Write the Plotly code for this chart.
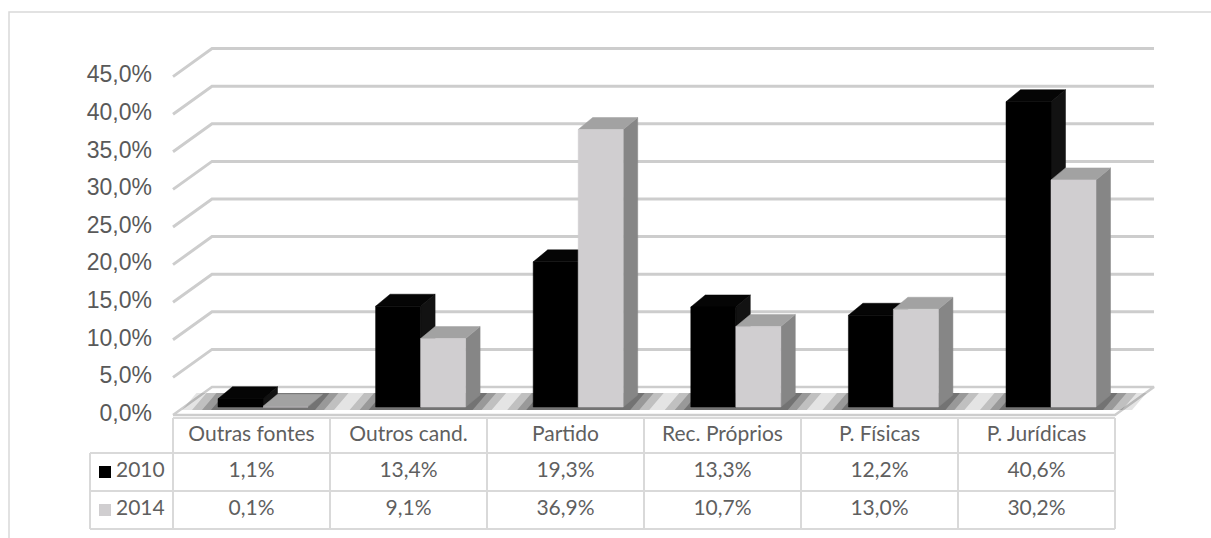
import plotly.graph_objects as go

# ---------------- data ----------------
categories = ["Outras fontes", "Outros cand.", "Partido", "Rec. Próprios", "P. Físicas", "P. Jurídicas"]
series_names = ["2010", "2014"]
values_2010 = [1.1, 13.4, 19.3, 13.3, 12.2, 40.6]
values_2014 = [0.1, 9.1, 36.9, 10.7, 13.0, 30.2]
tick_values = [0, 5, 10, 15, 20, 25, 30, 35, 40, 45]
tick_labels = ["0,0%", "5,0%", "10,0%", "15,0%", "20,0%", "25,0%", "30,0%", "35,0%", "40,0%", "45,0%"]

# ---------------- geometry / style ----------------
W, H = 1211, 538
PX_X = 157.0          # pixels per category
X0 = 251.5            # pixel of category 0 center
PX_Y = 7.52           # pixels per percent point
Y0 = 415.0            # pixel of 0% on the front plane

def ux(px):  # pixel length -> x units
    return px / PX_X

def uy(px):  # pixel length -> y units
    return px / PX_Y

BAR_W = ux(45)
BAR_BASE = uy(8)
DEPTH_DX = ux(14.5)
DEPTH_DY = uy(12)
WALL_DX = ux(39)
WALL_DY = uy(28)
X_LEFT, X_RIGHT = -0.5, len(categories) - 0.5

COL = {
    "2010": dict(front="#000000", top="#050505", side="#121212"),
    "2014": dict(front="#d0ced0", top="#a2a2a2", side="#868686"),
}
GRID = "#cdcdcd"
TXT = "#595959"
TABLE_LINE = "#d9d9d9"

fig = go.Figure()

# ---- back wall grid lines (with left diagonal) ----
gx, gy = [], []
for t in tick_values[1:]:
    gx += [X_LEFT, X_LEFT + WALL_DX, X_RIGHT + WALL_DX, None]
    gy += [t, t + WALL_DY, t + WALL_DY, None]
fig.add_trace(go.Scatter(x=gx, y=gy, mode="lines", line=dict(color=GRID, width=3),
                         hoverinfo="skip", showlegend=False))

# ---- floor ----
fig.add_trace(go.Scatter(
    x=[X_LEFT, X_LEFT + WALL_DX, X_RIGHT + WALL_DX, X_RIGHT, X_LEFT],
    y=[0, WALL_DY, WALL_DY, 0, 0],
    mode="lines", fill="toself", fillcolor="#ffffff",
    line=dict(color=GRID, width=2.5), hoverinfo="skip", showlegend=False))

# ---- soft shadows on floor around bar pairs ----
for spread, op in [(ux(36), 0.12), (ux(26), 0.18), (ux(16), 0.24), (ux(7), 0.30)]:
    sx, sy = [], []
    for i in range(len(categories)):
        shift = ux(11.5 + 0.6 * i)
        xl = i + shift - BAR_W
        xr = i + shift + BAR_W
        yb = BAR_BASE - uy(3)
        yt = BAR_BASE + DEPTH_DY + uy(2)
        sx += [xl - spread, xl - spread + DEPTH_DX, xr + spread + DEPTH_DX, xr + spread, xl - spread, None]
        sy += [yb, yt, yt, yb, yb, None]
    fig.add_trace(go.Scatter(x=sx, y=sy, mode="none", fill="toself",
                             fillcolor=f"rgba(30,30,30,{op})",
                             hoverinfo="skip", showlegend=False))

# ---- 3D bars ----
for s_idx, (name, vals) in enumerate(zip(series_names, [values_2010, values_2014])):
    fx, fy, tx, ty, sx, sy = [], [], [], [], [], []
    for i, v in enumerate(vals):
        shift = ux(11.5 + 0.6 * i)
        xl = i + shift - BAR_W + s_idx * BAR_W
        xr = xl + BAR_W
        b = BAR_BASE
        top = BAR_BASE + v
        fx += [xl, xr, xr, xl, xl, None]
        fy += [b, b, top, top, b, None]
        tx += [xl, xl + DEPTH_DX, xr + DEPTH_DX, xr, xl, None]
        ty += [top, top + DEPTH_DY, top + DEPTH_DY, top, top, None]
        sx += [xr, xr + DEPTH_DX, xr + DEPTH_DX, xr, xr, None]
        sy += [b, b + DEPTH_DY, top + DEPTH_DY, top, b, None]
    c = COL[name]
    for xs, ys, col in [(sx, sy, c["side"]), (tx, ty, c["top"]), (fx, fy, c["front"])]:
        fig.add_trace(go.Scatter(x=xs, y=ys, mode="lines", fill="toself", fillcolor=col,
                                 line=dict(color=col, width=0.5), hoverinfo="skip",
                                 showlegend=False))

# ---- y tick labels ----
fig.add_trace(go.Scatter(
    x=[X_LEFT - ux(21)] * len(tick_values), y=tick_values, mode="text",
    text=tick_labels, textposition="middle left",
    textfont=dict(family="Liberation Sans, Arial, sans-serif", size=23, color=TXT),
    hoverinfo="skip", showlegend=False))

# ---- data table ----
T_TOP = -uy(3)
R1 = -uy(38)
R2 = -uy(76)
R3 = -uy(114)
LEG_L = X_LEFT - ux(83)

lx, ly = [], []
lx += [X_LEFT, X_RIGHT, None]; ly += [T_TOP, T_TOP, None]
for r in [R1, R2, R3]:
    lx += [LEG_L, X_RIGHT, None]; ly += [r, r, None]
for k in range(len(categories) + 1):
    xv = X_LEFT + k
    lx += [xv, xv, None]; ly += [T_TOP, R3, None]
lx += [LEG_L, LEG_L, None]; ly += [R1, R3, None]
fig.add_trace(go.Scatter(x=lx, y=ly, mode="lines", line=dict(color=TABLE_LINE, width=2),
                         hoverinfo="skip", showlegend=False))

TFONT = dict(family="Lato, Open Sans, sans-serif", size=21, color="#5f5f5f")
cat_x = list(range(len(categories)))
fig.add_trace(go.Scatter(x=cat_x, y=[(T_TOP + R1) / 2] * len(categories), mode="text",
                         text=categories, textfont=TFONT, hoverinfo="skip", showlegend=False))
for vals, (ya, yb) in [(values_2010, (R1, R2)), (values_2014, (R2, R3))]:
    fig.add_trace(go.Scatter(x=cat_x, y=[(ya + yb) / 2] * len(vals), mode="text",
                             text=[f"{v:.1f}%".replace(".", ",") for v in vals],
                             textfont=TFONT, hoverinfo="skip", showlegend=False))

for name, (ya, yb) in zip(series_names, [(R1, R2), (R2, R3)]):
    ym = (ya + yb) / 2
    fig.add_trace(go.Scatter(x=[LEG_L + ux(15)], y=[ym], mode="markers",
                             marker=dict(symbol="square", size=12, color=COL[name]["front"]),
                             hoverinfo="skip", showlegend=False))
    fig.add_trace(go.Scatter(x=[LEG_L + ux(26)], y=[ym], mode="text", text=[name],
                             textposition="middle right", textfont=TFONT,
                             hoverinfo="skip", showlegend=False))

fig.update_layout(
    width=W, height=H, autosize=False,
    margin=dict(l=0, r=0, t=0, b=0),
    paper_bgcolor="white", plot_bgcolor="white",
    xaxis=dict(range=[-X0 / PX_X, (W - X0) / PX_X], visible=False, fixedrange=True),
    yaxis=dict(range=[(Y0 - H) / PX_Y, Y0 / PX_Y], visible=False, fixedrange=True),
    shapes=[dict(type="rect", xref="paper", yref="paper",
                 x0=9 / W, x1=1.01, y0=-0.02, y1=1 - 12 / H,
                 line=dict(color="#d9d9d9", width=1.5), fillcolor="rgba(0,0,0,0)", layer="below")],
)

fig.write_html("out.html")
